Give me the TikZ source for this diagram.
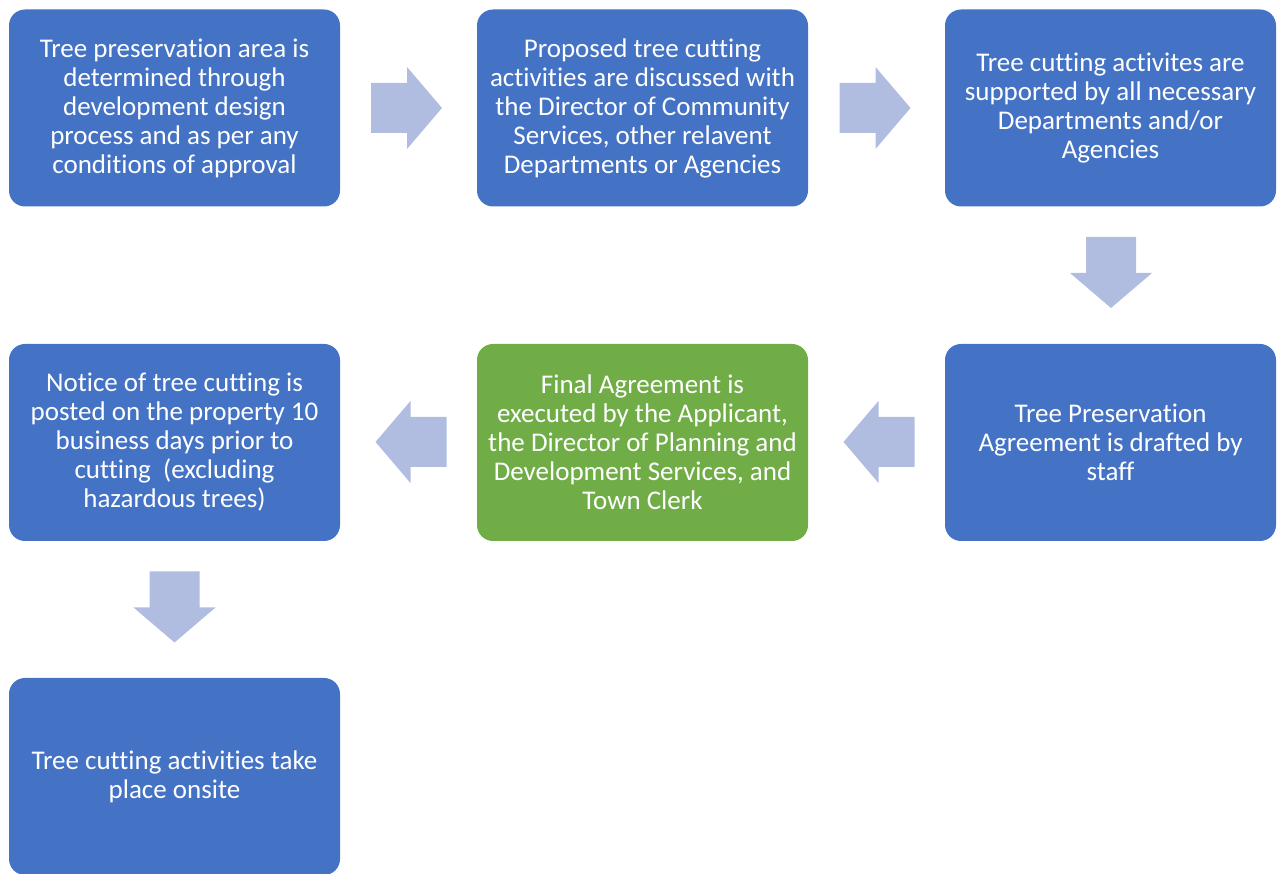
\documentclass[tikz,border=0pt]{standalone}
\usepackage{fontspec}
\setmainfont{Carlito}[Ligatures=NoCommon]
\definecolor{boxblue}{HTML}{4472C4}
\definecolor{boxgreen}{HTML}{70AD47}
\definecolor{arrowblue}{HTML}{B0BDE0}
\begin{document}
\begin{tikzpicture}[x=1pt,y=1pt,
  stepbox/.style={fill=boxblue, draw=none, rounded corners=16pt, minimum width=331pt, minimum height=197pt,
    inner sep=0pt, align=center, text=white, font=\fontsize{27}{29}\selectfont},
  greenbox/.style={stepbox, fill=boxgreen},
  barrow/.pic={\fill[arrowblue] (-35.5,25) -- (0.5,25) -- (0.5,41) -- (35.5,0) -- (0.5,-41) -- (0.5,-25) -- (-35.5,-25) -- cycle;}
]
\useasboundingbox (0,0) rectangle (1282,874);
% rows: y_tikz = 874 - y_px
\node[stepbox] (b1) at (174.5,766) {Tree preservation area is\\determined through\\development design\\process and as per any\\conditions of approval};
\node[stepbox] (b2) at (642.5,766) {Proposed tree cutting\\activities are discussed with\\the Director of Community\\Services, other relavent\\Departments or Agencies};
\node[stepbox] (b3) at (1110.5,766) {Tree cutting activites are\\supported by all necessary\\Departments and/or\\Agencies};
\node[stepbox] (b4) at (1110.5,431.5) {Tree Preservation\\Agreement is drafted by\\staff};
\node[greenbox] (b5) at (642.5,431.5) {Final Agreement is\\executed by the Applicant,\\the Director of Planning and\\Development Services, and\\Town Clerk};
\node[stepbox] (b6) at (174.5,431.5) {Notice of tree cutting is\\posted on the property 10\\business days prior to\\cutting~~(excluding\\hazardous trees)};
\node[stepbox] (b7) at (174.5,97.5) {Tree cutting activities take\\place onsite};
% block arrows between boxes
\coordinate (a1) at (406.5,766);
\coordinate (a2) at (875,766);
\coordinate (a3) at (1111,601.5);
\coordinate (a4) at (879,432);
\coordinate (a5) at (411,432);
\coordinate (a6) at (174.5,267);
\pic at (a1) {barrow};
\pic at (a2) {barrow};
\pic[rotate=-90] at (a3) {barrow};
\pic[rotate=180] at (a4) {barrow};
\pic[rotate=180] at (a5) {barrow};
\pic[rotate=-90] at (a6) {barrow};
\end{tikzpicture}
\end{document}
